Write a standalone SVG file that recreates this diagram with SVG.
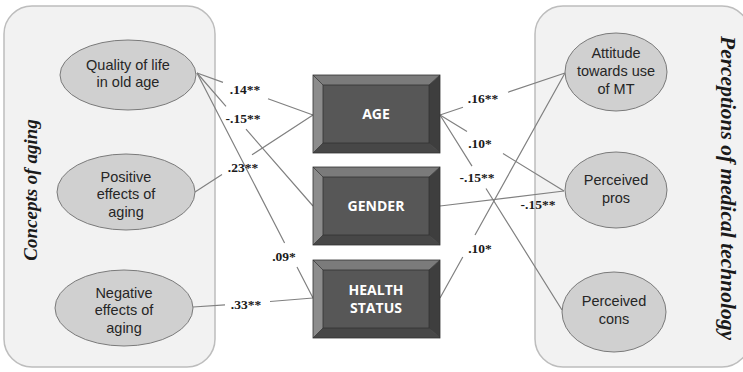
<svg xmlns="http://www.w3.org/2000/svg" width="743" height="372" viewBox="0 0 743 372">
  <style>
    .panel { fill: #f2f2f2; stroke: #bdbdbd; stroke-width: 1.5; }
    .ell { fill: #d0d0d0; stroke: #7a7a7a; stroke-width: 1; }
    .etxt { font-family: "Liberation Sans", Arial, sans-serif; font-size: 14.5px; fill: #262626; text-anchor: middle; }
    .btxt { font-family: "Open Sans", "Liberation Sans", sans-serif; font-weight: bold; font-size: 14px; fill: #ffffff; text-anchor: middle; }
    .coef { font-family: "Liberation Serif", "Times New Roman", serif; font-weight: bold; font-size: 13.5px; fill: #1a1a1a; text-anchor: middle; }
    .ptitle { font-family: "Liberation Serif", "Times New Roman", serif; font-weight: bold; font-style: italic; font-size: 19px; fill: #1a1a1a; text-anchor: middle; }
    .conn { fill: none; stroke: #808080; stroke-width: 1.2; }
    .face { fill: #575757; }
    .bt { fill: #7b7b7b; }
    .bl { fill: #8c8c8c; }
    .br { fill: #3e3e3e; }
    .bb { fill: #474747; }
    .edge { fill: none; stroke: #333333; stroke-width: 0.8; }
  </style>
  <defs>
    <!-- bevelled box, 127 x 78, origin at top-left -->
    <g id="bevel">
      <polygon class="bt" points="0,0 127,0 116,10 10,10"/>
      <polygon class="bl" points="0,0 10,10 10,68 0,78"/>
      <polygon class="br" points="127,0 127,78 116,68 116,10"/>
      <polygon class="bb" points="0,78 10,68 116,68 127,78"/>
      <rect class="face" x="10" y="10" width="106" height="58"/>
      <path class="edge" d="M0,0 L10,10 M127,0 L116,10 M0,78 L10,68 M127,78 L116,68"/>
      <rect class="edge" x="0" y="0" width="127" height="78"/>
      <rect class="edge" x="10" y="10" width="106" height="58"/>
    </g>
  </defs>

  <rect width="743" height="372" fill="#ffffff"/>

  <!-- group panels -->
  <g id="panel-aging">
    <rect class="panel" x="4" y="6" width="211" height="361" rx="28" ry="28"/>
    <text class="ptitle" transform="translate(37,190) rotate(-90)">Concepts of aging</text>
  </g>
  <g id="panel-tech">
    <rect class="panel" x="535" y="6" width="215" height="361" rx="28" ry="28"/>
    <text class="ptitle" style="font-size:21.5px" transform="translate(721,188) rotate(90)">Perceptions of medical technology</text>
  </g>

  <!-- path coefficients -->
  <g id="connectors">
    <path class="conn" d="M197,73 L223,82.4 M268,98.7 L313,115"/>
    <path class="conn" d="M197,73 L226,106.3 M246,129.2 L313,206"/>
    <path class="conn" d="M197,73 L284.6,243 M297,267 L313,298"/>
    <path class="conn" d="M195,192 L222,174.4 M252,154.8 L313,115"/>
    <path class="conn" d="M193,307 L225,304.9 M270,301.5 L313,298"/>
    <path class="conn" d="M440,115 L463,107.3 M508,92.2 L565,73"/>
    <path class="conn" d="M440,115 L467,131.5 M503,153.6 L564,191"/>
    <path class="conn" d="M440,115 L472,166.1 M486,188.5 L562,310"/>
    <path class="conn" d="M440,206 L564,191"/>
    <path class="conn" d="M440,298 L462.8,257 M475,235 L565,73"/>

    <text class="coef" x="245" y="93.5">.14**</text>
    <text class="coef" x="243" y="122.5">-.15**</text>
    <text class="coef" x="284" y="260.5">.09*</text>
    <text class="coef" x="243" y="171.5">.23**</text>
    <text class="coef" x="246" y="308.5">.33**</text>
    <text class="coef" x="483" y="102.5">.16**</text>
    <text class="coef" x="480" y="147.5">.10*</text>
    <text class="coef" x="477" y="181.5">-.15**</text>
    <text class="coef" x="538" y="208.5">-.15**</text>
    <text class="coef" x="480" y="252.5">.10*</text>
  </g>

  <!-- concepts of aging -->
  <g id="quality">
    <ellipse class="ell" cx="128" cy="75" rx="68" ry="35"/>
    <text class="etxt" x="128" y="70">Quality of life</text>
    <text class="etxt" x="128" y="87">in old age</text>
  </g>
  <g id="positive">
    <ellipse class="ell" cx="126" cy="192" rx="69" ry="38"/>
    <text class="etxt" x="126" y="182">Positive</text>
    <text class="etxt" x="126" y="199">effects of</text>
    <text class="etxt" x="126" y="217">aging</text>
  </g>
  <g id="negative">
    <ellipse class="ell" cx="124" cy="308" rx="69" ry="38"/>
    <text class="etxt" x="124" y="298">Negative</text>
    <text class="etxt" x="124" y="315">effects of</text>
    <text class="etxt" x="124" y="333">aging</text>
  </g>

  <!-- demographic variables -->
  <g id="age">
    <use href="#bevel" x="313" y="75"/>
    <text class="btxt" x="376" y="119">AGE</text>
  </g>
  <g id="gender">
    <use href="#bevel" x="313" y="167"/>
    <text class="btxt" x="376" y="211">GENDER</text>
  </g>
  <g id="health">
    <use href="#bevel" x="313" y="260"/>
    <text class="btxt" x="376" y="295">HEALTH</text>
    <text class="btxt" x="376" y="313">STATUS</text>
  </g>

  <!-- perceptions of medical technology -->
  <g id="attitude">
    <ellipse class="ell" cx="616" cy="72" rx="51" ry="39"/>
    <text class="etxt" x="616" y="58">Attitude</text>
    <text class="etxt" x="616" y="76">towards use</text>
    <text class="etxt" x="616" y="94">of MT</text>
  </g>
  <g id="pros">
    <ellipse class="ell" cx="616" cy="190" rx="51" ry="38"/>
    <text class="etxt" x="616" y="185">Perceived</text>
    <text class="etxt" x="616" y="203">pros</text>
  </g>
  <g id="cons">
    <ellipse class="ell" cx="614" cy="312" rx="52" ry="40"/>
    <text class="etxt" x="614" y="306">Perceived</text>
    <text class="etxt" x="614" y="324">cons</text>
  </g>
</svg>
